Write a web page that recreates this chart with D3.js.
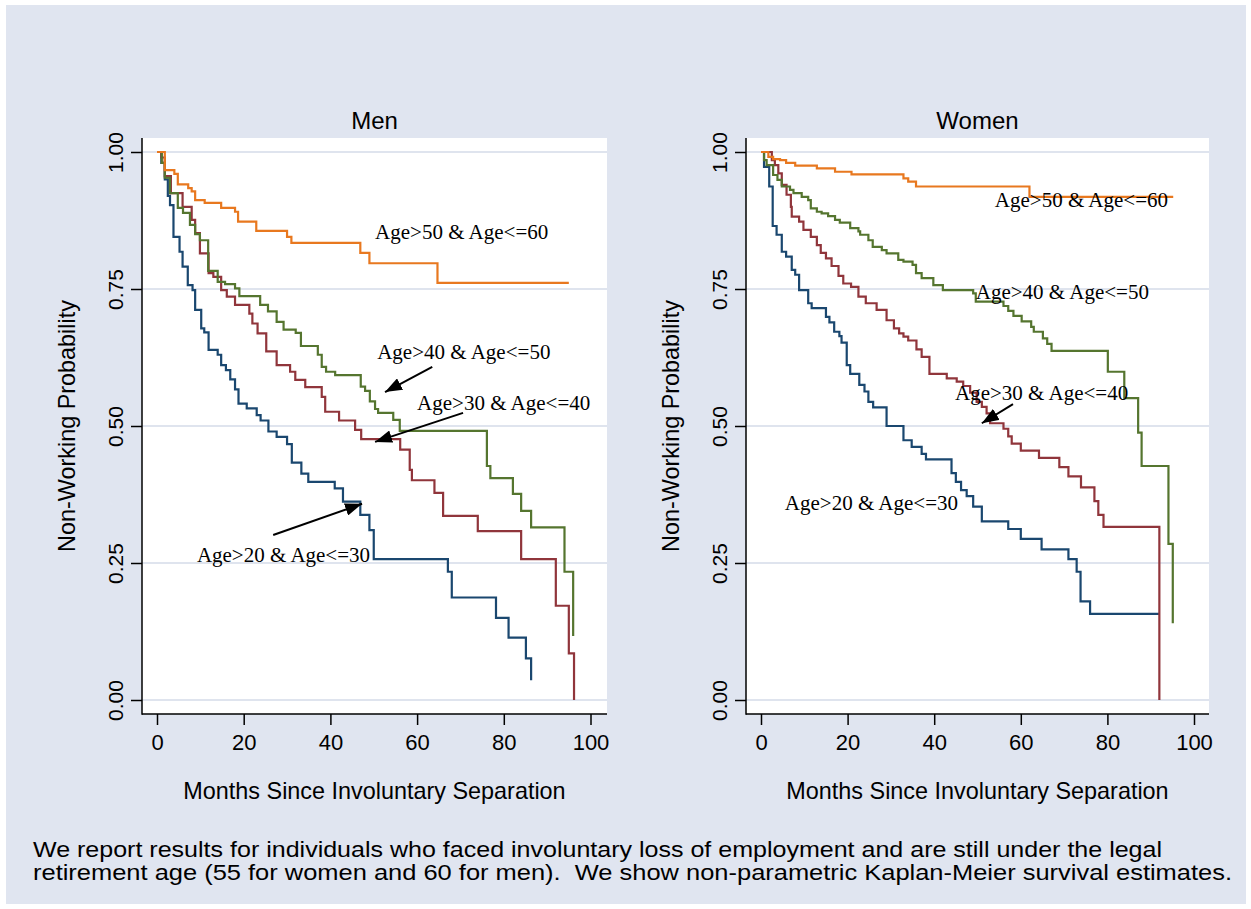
<!DOCTYPE html>
<html>
<head>
<meta charset="utf-8">
<script src="https://cdn.jsdelivr.net/npm/d3@7"></script>
<style>
  html, body { margin: 0; padding: 0; background: #ffffff; }
  svg { display: block; }
</style>
</head>
<body>
<svg id="chart"></svg>
<script>
// Kaplan-Meier step curves: [month, survival] at each drop.
const xTicks = [0, 20, 40, 60, 80, 100];
const yTicks = [0, 0.25, 0.5, 0.75, 1];

const menAge20to30 = [[0, 1], [1, 0.98], [1.8, 0.95], [2.5, 0.92], [3, 0.903], [3.8, 0.845], [5.2, 0.818], [5.9, 0.791],
  [7.1, 0.757], [8.2, 0.748], [8.8, 0.712], [10.2, 0.678], [10.9, 0.671], [11.9, 0.639], [14, 0.63], [14.8, 0.611],
  [15.9, 0.602], [16.9, 0.585], [18, 0.567], [18.8, 0.541], [20.7, 0.532], [23, 0.52], [23.9, 0.51], [25.7, 0.49],
  [27.6, 0.48], [30, 0.467], [31.1, 0.433], [33.3, 0.413], [34.9, 0.398], [41, 0.386], [42.9, 0.362], [46.9, 0.338],
  [49, 0.31], [50, 0.257], [67.1, 0.234], [68, 0.187], [78.2, 0.15], [81.1, 0.114], [85.1, 0.076], [86.3, 0.036]];
const menAge30to40 = [[0, 1], [1, 0.99], [1.8, 0.956], [3.2, 0.925], [5.9, 0.9], [8, 0.876], [8.8, 0.852], [9.9, 0.815],
  [11.9, 0.779], [13, 0.772], [14.8, 0.748], [16.1, 0.736], [18, 0.721], [21.3, 0.705], [22, 0.687], [23.2, 0.669],
  [25.2, 0.636], [27.6, 0.611], [30.7, 0.599], [31.9, 0.584], [34.2, 0.571], [38, 0.553], [38.8, 0.526], [42, 0.51],
  [45.7, 0.493], [47.1, 0.476], [56.1, 0.457], [58.3, 0.42], [58.8, 0.401], [64, 0.378], [66, 0.336], [74, 0.308],
  [84, 0.257], [92, 0.172], [95, 0.085], [96.2, 0]];
const menAge40to50 = [[0, 1], [1.1, 0.98], [1.8, 0.953], [3, 0.925], [4.8, 0.898], [6, 0.889], [7.6, 0.867], [8.8, 0.85],
  [9.9, 0.839], [11.8, 0.783], [14, 0.763], [15.7, 0.759], [18, 0.751], [19, 0.737], [23.8, 0.721], [25.6, 0.709],
  [27.6, 0.69], [29.2, 0.676], [32, 0.67], [33.2, 0.646], [37.1, 0.63], [38, 0.608], [39, 0.599], [41.1, 0.593],
  [47, 0.572], [48, 0.564], [49.1, 0.545], [50.3, 0.531], [51, 0.524], [54.5, 0.511], [56, 0.491], [76.1, 0.427],
  [76.9, 0.405], [82.1, 0.376], [84, 0.345], [86.3, 0.315], [94, 0.234], [96, 0.117]];
const menAge50to60 = [[0, 1], [1.8, 0.967], [4, 0.96], [4.8, 0.941], [7.2, 0.934], [8, 0.928], [8.8, 0.912], [11, 0.907],
  [14.8, 0.898], [18, 0.891], [18.7, 0.873], [22.9, 0.856], [30, 0.845], [31, 0.834], [46.9, 0.816], [49, 0.797],
  [64.7, 0.761], [95, 0.761]];

const womenAge20to30 = [[0, 1], [0.7, 0.973], [1.9, 0.937], [2.7, 0.865], [3.6, 0.849], [4.8, 0.818], [5.8, 0.809],
  [7.1, 0.785], [7.9, 0.776], [8.8, 0.748], [10.9, 0.724], [11.7, 0.715], [15, 0.699], [15.8, 0.689], [16.9, 0.672],
  [18.1, 0.664], [18.6, 0.652], [19.8, 0.611], [20.6, 0.595], [22.7, 0.575], [23.9, 0.563], [24.8, 0.544], [25.9, 0.534],
  [29, 0.5], [32.9, 0.474], [34.8, 0.462], [37.1, 0.449], [38.1, 0.439], [44, 0.414], [45, 0.398], [46.2, 0.383],
  [47.5, 0.372], [49, 0.353], [51, 0.326], [57.1, 0.312], [60, 0.294], [64.8, 0.275], [71, 0.257], [72.9, 0.234],
  [73.8, 0.18], [76, 0.157], [92, 0.157]];
const womenAge30to40 = [[0, 1], [2.5, 0.985], [3.2, 0.976], [4, 0.961], [4.8, 0.94], [5.9, 0.922], [6.9, 0.9], [7.1, 0.882],
  [8.8, 0.873], [9.8, 0.858], [11.5, 0.845], [12.9, 0.83], [13.8, 0.816], [15, 0.806], [16.3, 0.792], [17.9, 0.774],
  [19, 0.76], [20.8, 0.754], [22.5, 0.736], [24.2, 0.724], [26.7, 0.712], [29, 0.693], [30.7, 0.678], [31.9, 0.669],
  [32.9, 0.663], [34, 0.656], [35.9, 0.64], [37.1, 0.626], [38.9, 0.595], [42.9, 0.587], [45.2, 0.581], [46.7, 0.573],
  [48.3, 0.561], [49.8, 0.544], [51, 0.535], [52.1, 0.523], [52.9, 0.505], [56, 0.495], [57.1, 0.481], [57.9, 0.468],
  [60, 0.455], [64.2, 0.442], [68.9, 0.425], [71, 0.408], [73.9, 0.388], [77, 0.363], [77.9, 0.338], [79.1, 0.316],
  [92, 0]];
const womenAge40to50 = [[0, 1], [0.7, 0.985], [1.3, 0.976], [2.8, 0.958], [3.8, 0.949], [4.8, 0.937], [6.7, 0.931],
  [7.5, 0.925], [9.4, 0.918], [10.9, 0.912], [11.5, 0.897], [12.9, 0.891], [14, 0.888], [15.5, 0.883], [17.1, 0.876],
  [18.2, 0.871], [20.6, 0.861], [22.5, 0.855], [22.9, 0.849], [24.8, 0.839], [25.8, 0.827], [27.9, 0.821], [29, 0.815],
  [31.7, 0.803], [32.9, 0.8], [35, 0.794], [35.8, 0.779], [37.1, 0.77], [39.8, 0.757], [42, 0.748], [49, 0.742],
  [49.6, 0.727], [56, 0.719], [57.1, 0.71], [58.3, 0.701], [60.2, 0.691], [62.4, 0.681], [63, 0.672], [65.1, 0.66],
  [66.1, 0.65], [67.1, 0.637], [80.1, 0.599], [83.9, 0.551], [87.1, 0.488], [87.9, 0.427], [94.1, 0.285], [95.1, 0.14]];
const womenAge50to60 = [[0, 1], [1.7, 0.991], [2.8, 0.987], [4.4, 0.985], [5.8, 0.98], [7.9, 0.975], [12.9, 0.97],
  [17.1, 0.964], [20.9, 0.959], [32.9, 0.952], [34, 0.946], [35.8, 0.937], [62, 0.918], [95.2, 0.918]];

const groupLabels = ['Age>20 & Age<=30', 'Age>30 & Age<=40', 'Age>40 & Age<=50', 'Age>50 & Age<=60'];
const panelTitles = ['Men', 'Women'];
const xTitle = 'Months Since Involuntary Separation';
const yTitle = 'Non-Working Probability';
const captionLines = [
  'We report results for individuals who faced involuntary loss of employment and are still under the legal',
  'retirement age (55 for women and 60 for men).  We show non-parametric Kaplan-Meier survival estimates.'
];

// label anchors in data units [month, prob], arrows as [tail, tip]
const menLabelSpots = [[9.2, 0.252], [60, 0.529], [50.8, 0.622], [50.3, 0.841]];
const menArrows = [[[26.8, 0.301], [47.3, 0.358]], [[70.6, 0.524], [50.3, 0.471]], [[63.5, 0.608], [52.6, 0.562]]];
const womenLabelSpots = [[5.5, 0.347], [44.8, 0.547], [49.6, 0.732], [54, 0.9]];
const womenArrows = [[[58.2, 0.54], [51, 0.505]]];

const SERIES_COLORS = ['#1a476f', '#90353b', '#55752f', '#e8781f'];
const BG = '#e0e5f0';
const GRID = '#dfe4ee';
const SANS = '"Liberation Sans", Arial, sans-serif';
const SERIF = '"Liberation Serif", "Times New Roman", serif';

const W = 1251;
const H = 909;

const svg = d3.select('#chart')
  .attr('width', W)
  .attr('height', H);

svg.append('rect')
  .attr('x', 6)
  .attr('y', 5)
  .attr('width', W - 11)
  .attr('height', H - 10)
  .attr('fill', BG);

svg.append('defs').append('marker')
  .attr('id', 'arrowhead')
  .attr('markerUnits', 'userSpaceOnUse')
  .attr('viewBox', '0 0 16 12')
  .attr('refX', 16)
  .attr('refY', 6)
  .attr('markerWidth', 17)
  .attr('markerHeight', 13)
  .attr('orient', 'auto')
  .append('path')
  .attr('d', 'M0,0 L16,6 L0,12 Z')
  .attr('fill', '#000000');

const panels = [
  {
    left: 142, right: 607, x0: 157, x1: 590.5,
    series: [menAge20to30, menAge30to40, menAge40to50, menAge50to60],
    labels: menLabelSpots, arrows: menArrows
  },
  {
    left: 746, right: 1209, x0: 761, x1: 1194,
    series: [womenAge20to30, womenAge30to40, womenAge40to50, womenAge50to60],
    labels: womenLabelSpots, arrows: womenArrows
  }
];

const PLOT_TOP = 138;
const PLOT_BOTTOM = 714;

panels.forEach((panel, index) => {
  drawPanel(panel, panelTitles[index]);
});

const captionWidths = [1129, 1199];
captionLines.forEach((line, index) => {
  svg.append('text')
    .attr('x', 33)
    .attr('y', 857 + (index * 23))
    .attr('fill', '#000000')
    .attr('font-size', 22)
    .attr('font-family', SANS)
    .attr('textLength', captionWidths[index])
    .attr('lengthAdjust', 'spacingAndGlyphs')
    .style('white-space', 'pre')
    .text(line);
});

function drawPanel(panel, title) {
  const x = d3.scaleLinear().domain([0, 100]).range([panel.x0, panel.x1]);
  const y = d3.scaleLinear().domain([0, 1]).range([700, 152]);
  const g = svg.append('g');

  g.append('rect')
    .attr('x', panel.left)
    .attr('y', PLOT_TOP)
    .attr('width', panel.right - panel.left)
    .attr('height', PLOT_BOTTOM - PLOT_TOP)
    .attr('fill', '#ffffff');

  g.selectAll('line.grid')
    .data(yTicks)
    .join('line')
    .attr('class', 'grid')
    .attr('x1', panel.left)
    .attr('x2', panel.right)
    .attr('y1', (d) => y(d))
    .attr('y2', (d) => y(d))
    .attr('stroke', GRID)
    .attr('stroke-width', 2);

  const line = d3.line()
    .x((d) => x(d[0]))
    .y((d) => y(d[1]))
    .curve(d3.curveStepAfter);

  panel.series.forEach((points, i) => {
    g.append('path')
      .datum(points)
      .attr('d', line)
      .attr('fill', 'none')
      .attr('stroke', SERIES_COLORS[i])
      .attr('stroke-width', 2.2);
  });

  // axes
  const yAxis = g.append('g')
    .attr('transform', `translate(${panel.left},0)`)
    .call(d3.axisLeft(y).tickValues(yTicks).tickSize(11).tickFormat(d3.format('.2f')));
  yAxis.select('.domain').remove();
  yAxis.selectAll('.tick line').attr('stroke', '#000000').attr('stroke-width', 1.5);
  yAxis.selectAll('.tick text')
    .attr('transform', 'rotate(-90)')
    .attr('x', 0)
    .attr('y', -19)
    .attr('dy', 0)
    .attr('text-anchor', 'middle')
    .attr('fill', '#000000')
    .attr('font-size', 21)
    .attr('font-family', SANS);

  const xAxis = g.append('g')
    .attr('transform', `translate(0,${PLOT_BOTTOM})`)
    .call(d3.axisBottom(x).tickValues(xTicks).tickSize(11).tickPadding(9));
  xAxis.select('.domain').remove();
  xAxis.selectAll('.tick line').attr('stroke', '#000000').attr('stroke-width', 1.5);
  xAxis.selectAll('.tick text')
    .attr('fill', '#000000')
    .attr('font-size', 22)
    .attr('font-family', SANS);

  g.append('line')
    .attr('x1', panel.left)
    .attr('x2', panel.left)
    .attr('y1', PLOT_TOP)
    .attr('y2', PLOT_BOTTOM + 0.75)
    .attr('stroke', '#000000')
    .attr('stroke-width', 1.5);
  g.append('line')
    .attr('x1', panel.left)
    .attr('x2', panel.right)
    .attr('y1', PLOT_BOTTOM)
    .attr('y2', PLOT_BOTTOM)
    .attr('stroke', '#000000')
    .attr('stroke-width', 1.5);

  const midX = (panel.left + panel.right) / 2;
  const midY = (PLOT_TOP + PLOT_BOTTOM) / 2;

  g.append('text')
    .attr('x', midX)
    .attr('y', 129)
    .attr('text-anchor', 'middle')
    .attr('font-size', 24)
    .attr('font-family', SANS)
    .text(title);

  g.append('text')
    .attr('x', midX)
    .attr('y', 799)
    .attr('text-anchor', 'middle')
    .attr('font-size', 23.4)
    .attr('font-family', SANS)
    .text(xTitle);

  g.append('text')
    .attr('transform', `translate(${panel.left - 67},${midY}) rotate(-90)`)
    .attr('text-anchor', 'middle')
    .attr('font-size', 23.4)
    .attr('font-family', SANS)
    .text(yTitle);

  // annotations
  panel.labels.forEach((spot, i) => {
    g.append('text')
      .attr('x', x(spot[0]))
      .attr('y', y(spot[1]))
      .attr('font-size', 21)
      .attr('font-family', SERIF)
      .attr('fill', '#000000')
      .text(groupLabels[i]);
  });

  panel.arrows.forEach((arrow) => {
    g.append('line')
      .attr('x1', x(arrow[0][0]))
      .attr('y1', y(arrow[0][1]))
      .attr('x2', x(arrow[1][0]))
      .attr('y2', y(arrow[1][1]))
      .attr('stroke', '#000000')
      .attr('stroke-width', 2)
      .attr('marker-end', 'url(#arrowhead)');
  });
}
</script>
</body>
</html>
